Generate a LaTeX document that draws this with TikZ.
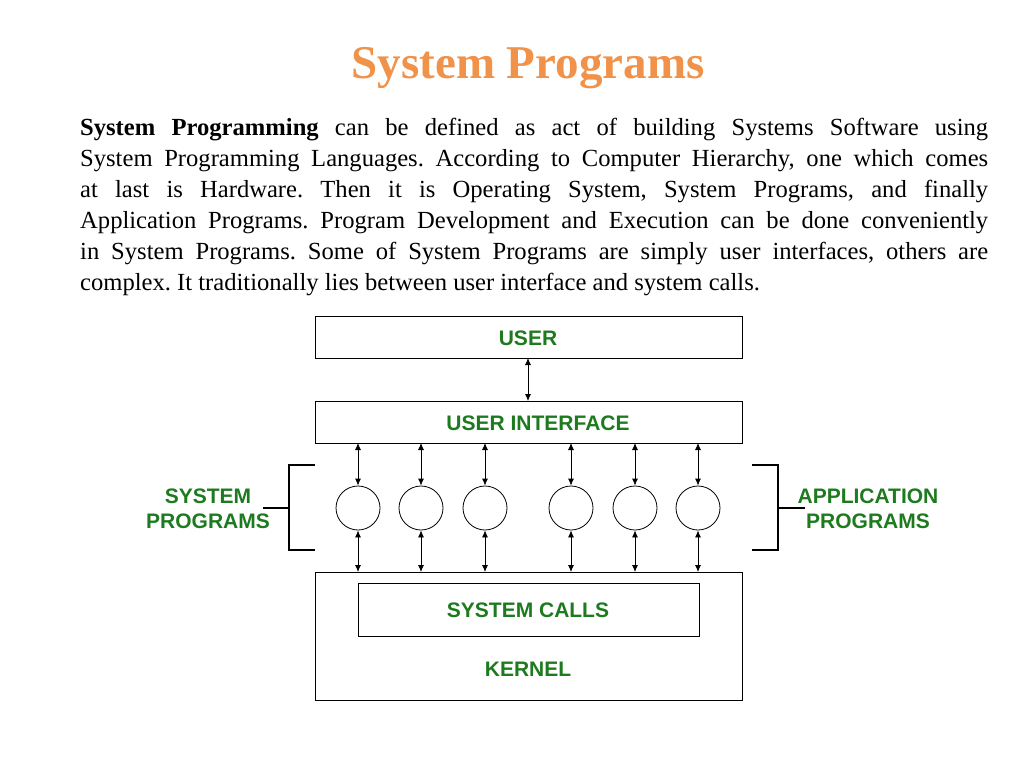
\documentclass[tikz,border=0pt]{standalone}
\usepackage{fontspec}
\setmainfont{Liberation Serif}
\setsansfont{Liberation Sans}
\usetikzlibrary{arrows.meta}
\definecolor{ttl}{HTML}{F0924A}
\definecolor{grn}{HTML}{1E7A1E}
\begin{document}
\begin{tikzpicture}[x=1pt,y=-1pt,
 box/.style={draw,line width=0.8pt},
 lbl/.style={font=\sffamily\bfseries\fontsize{21}{25}\selectfont,text=grn,align=center},
 arr/.style={{Latex[length=7pt,width=6pt]}-{Latex[length=7pt,width=6pt]},line width=0.8pt},
 circ/.style={draw,circle,minimum size=44pt,inner sep=0pt,line width=0.8pt}]
\useasboundingbox (0,0) rectangle (1024,768);
\node[font=\bfseries\fontsize{47}{50}\selectfont,text=ttl] (title) at (528,68) {System Programs};
\node[anchor=north west,inner sep=0pt,text width=908pt,align=justify,font=\fontsize{24.6}{31}\selectfont] (para) at (80,118)
{\frenchspacing\textbf{System Programming} can be defined as act of building Systems Software using\linebreak System Programming Languages. According to Computer Hierarchy, one which comes\linebreak at last is Hardware. Then it is Operating System, System Programs, and finally\linebreak Application Programs. Program Development and Execution can be done conveniently\linebreak in System Programs. Some of System Programs are simply user interfaces, others are\linebreak complex. It traditionally lies between user interface and system calls.};
\draw[box] (315,316) rectangle (742,358);
\node[lbl] (user) at (528,338) {USER};
\coordinate (ub) at (528,358);
\draw[box] (315,401) rectangle (742,443);
\node[lbl] (ui) at (538,423) {USER INTERFACE};
\coordinate (ut) at (528,401);
\draw[arr] (ub) -- (ut);
\draw[box] (315,572) rectangle (742,700);
\draw[box] (358,583) rectangle (699,636);
\node[lbl] (sc) at (528,610) {SYSTEM CALLS};
\node[lbl] (kern) at (528,669) {KERNEL};
\foreach \i/\x in {1/358,2/421,3/485,4/571,5/635,6/698}{
  \node[circ] (c\i) at (\x,508) {};
  \coordinate (t\i) at (\x,443);
  \coordinate (b\i) at (\x,572);
  \draw[arr] (t\i) -- (c\i.north);
  \draw[arr] (c\i.south) -- (b\i);
}
\draw[line width=1.6pt] (315,465) -- (289,465) -- (289,550) -- (315,550);
\draw[line width=1.2pt] (263,508) -- (289,508);
\draw[line width=1.6pt] (752,465) -- (778,465) -- (778,550) -- (752,550);
\draw[line width=1.2pt] (778,508) -- (805,508);
\node[lbl] (sp) at (208,509) {SYSTEM\\PROGRAMS};
\node[lbl] (ap) at (868,509) {APPLICATION\\PROGRAMS};
\end{tikzpicture}
\end{document}
